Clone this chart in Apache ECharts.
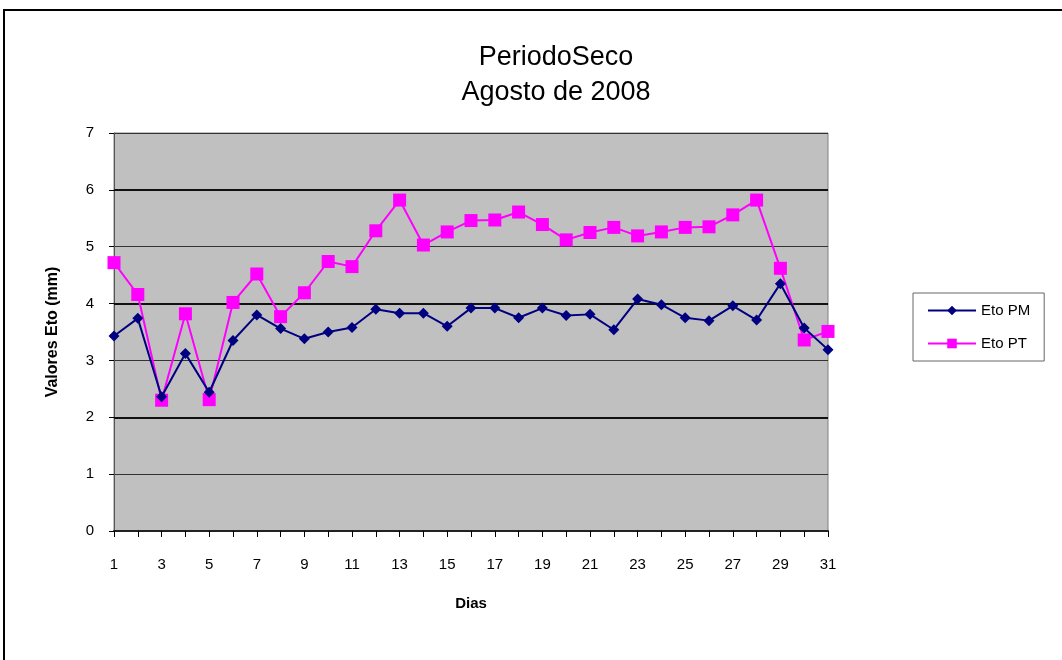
<!DOCTYPE html>
<html>
<head>
<meta charset="utf-8">
<title>PeriodoSeco</title>
<script src="https://cdn.jsdelivr.net/npm/echarts@6/dist/echarts.min.js"></script>
<style>
  html, body { margin: 0; padding: 0; background: #fff; }
  #main { width: 1062px; height: 660px; }
</style>
</head>
<body>
<div id="main"></div>
<script>
// dias do mes
var dias = [];
for (var d = 1; d <= 31; d++) { dias.push(String(d)); }

var etoPM = [3.43, 3.74, 2.36, 3.12, 2.44, 3.35, 3.80, 3.56, 3.38, 3.50,
             3.58, 3.90, 3.83, 3.83, 3.60, 3.92, 3.92, 3.75, 3.92, 3.79,
             3.81, 3.54, 4.08, 3.98, 3.75, 3.70, 3.96, 3.71, 4.35, 3.57, 3.19];

var etoPT = [4.72, 4.16, 2.30, 3.82, 2.31, 4.02, 4.52, 3.77, 4.19, 4.74,
             4.65, 5.28, 5.82, 5.03, 5.26, 5.46, 5.47, 5.61, 5.39, 5.12,
             5.25, 5.34, 5.19, 5.26, 5.34, 5.35, 5.56, 5.82, 4.62, 3.36, 3.51];

// linhas de grade mais escuras
var gradeForte = [2, 4, 6];

var fonte = '"Liberation Sans", Arial, sans-serif';

var myChart = echarts.init(document.getElementById('main'));
myChart.setOption({
    animation: false,
    textStyle: { fontFamily: fonte, color: '#000' },
    title: {
        text: 'PeriodoSeco\nAgosto de 2008',
        left: 551,
        textAlign: 'center',
        top: 35,
        textStyle: { fontFamily: fonte, fontSize: 27, fontWeight: 'normal', color: '#000', lineHeight: 35 }
    },
    graphic: [{
        type: 'rect',
        shape: { x: 4, y: 10, width: 1200, height: 800 },
        style: { fill: 'none', stroke: '#000', lineWidth: 2 }
    }],
    legend: {
        orient: 'vertical',
        left: 913,
        top: 293,
        padding: [10, 14, 10, 14],
        itemGap: 18,
        itemWidth: 48,
        itemHeight: 12,
        borderColor: '#666',
        borderWidth: 1,
        textStyle: { fontFamily: fonte, fontSize: 15, color: '#000' },
        data: ['Eto PM', 'Eto PT']
    },
    grid: {
        left: 114, right: 234, top: 133, bottom: 129,
        show: true,
        backgroundColor: '#c0c0c0',
        borderColor: '#808080',
        borderWidth: 1
    },
    xAxis: {
        type: 'category',
        data: dias,
        boundaryGap: false,
        name: 'Dias',
        nameLocation: 'middle',
        nameGap: 65,
        nameTextStyle: { fontFamily: fonte, fontSize: 15, fontWeight: 'bold', color: '#000' },
        axisLine: { lineStyle: { color: '#222', width: 2 } },
        axisTick: { show: true, interval: 0, length: 6, lineStyle: { color: '#000' } },
        axisLabel: { interval: 1, margin: 26, fontSize: 15, color: '#000' },
        splitLine: { show: false }
    },
    yAxis: {
        type: 'value',
        min: 0, max: 7, interval: 1,
        name: 'Valores Eto (mm)',
        nameLocation: 'middle',
        nameGap: 53,
        nameTextStyle: { fontFamily: fonte, fontSize: 16, fontWeight: 'bold', color: '#000' },
        axisLine: { show: true, lineStyle: { color: '#555', width: 1 } },
        axisTick: { show: true, length: 5, lineStyle: { color: '#000' } },
        axisLabel: { margin: 20, fontSize: 15, color: '#000' },
        splitLine: { show: true, lineStyle: { color: '#333', width: 1 } }
    },
    series: [{
        name: 'Eto PM',
        type: 'line',
        data: etoPM,
        symbol: 'diamond',
        symbolSize: 11,
        lineStyle: { color: '#000080', width: 2 },
        itemStyle: { color: '#000080' },
        z: 3
    }, {
        name: 'Eto PT',
        type: 'line',
        data: etoPT,
        symbol: 'rect',
        symbolSize: 13,
        lineStyle: { color: '#ff00ff', width: 2 },
        itemStyle: { color: '#ff00ff' },
        z: 2,
        markLine: {
            silent: true,
            symbol: 'none',
            label: { show: false },
            lineStyle: { color: '#111', width: 2, type: 'solid' },
            z: 1,
            data: gradeForte.map(function(v){ return { yAxis: v }; })
        }
    }]
});
</script>
</body>
</html>
